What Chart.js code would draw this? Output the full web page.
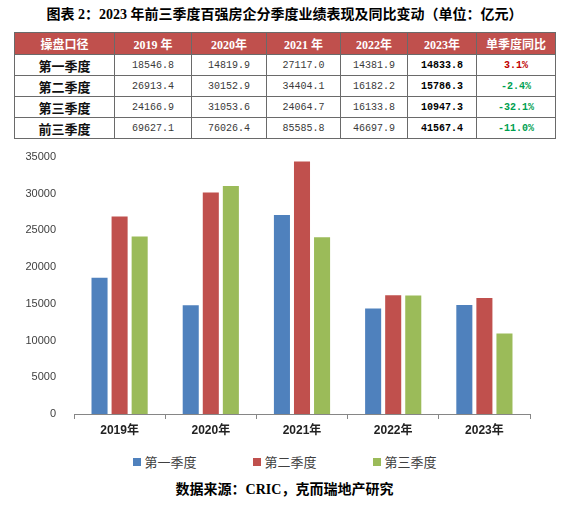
<!DOCTYPE html>
<html>
<head>
<meta charset="utf-8">
<script src="https://cdn.jsdelivr.net/npm/chart.js@4.4.0/dist/chart.umd.min.js"></script>
<style>
  html, body { margin:0; padding:0; background:#fff; }
  body { width:569px; height:506px; position:relative; overflow:hidden; }
  #title { position:absolute; top:5px; left:0; width:569px; text-align:center;
    font:bold 14px "Liberation Serif","Noto Sans CJK SC",serif; color:#000; line-height:20px; }
  #tbl { position:absolute; top:32px; left:14px; border-collapse:collapse; table-layout:fixed; }
  #tbl td, #tbl th { border:1px solid #6a6a6a; text-align:center; padding:0; }
  #tbl th { background:#C0504D; color:#fff; height:21px;
    font:bold 12px "Liberation Serif","Noto Sans CJK SC",serif; }
  #tbl td { height:20px; font:10px "Liberation Mono","DejaVu Sans Mono",monospace; color:#3a3a3a; }
  #tbl td.rn { font:bold 13px "Noto Sans CJK SC",sans-serif; color:#111; }
  #tbl td.b { font-weight:bold; color:#000; }
  #tbl td.up { color:#C00000; font-weight:bold; }
  #tbl td.dn { color:#00A050; font-weight:bold; }
  #wrap { position:absolute; top:140px; left:0; width:569px; height:300px; }
  #legend { position:absolute; top:454px; left:0; width:569px; display:flex; justify-content:center; gap:56px;
    font:13px "Noto Sans CJK SC",sans-serif; color:#404040; line-height:16px; }
  #legend .it { display:flex; align-items:center; width:64px; white-space:nowrap; }
  #legend .bx { width:8px; height:8px; margin-right:4px; flex:none; }
  #src { position:absolute; top:480px; left:0; width:569px; text-align:center;
    font:bold 14px "Liberation Serif","Noto Sans CJK SC",serif; color:#000; line-height:20px; }
</style>
</head>
<body>
<div id="title">图表 2：2023 年前三季度百强房企分季度业绩表现及同比变动（单位：亿元）</div>
<table id="tbl">
  <colgroup id="cols"></colgroup>
  <thead><tr id="hdr"></tr></thead>
  <tbody id="tb"></tbody>
</table>
<div id="wrap"><canvas id="c"></canvas></div>
<div id="legend"></div>
<div id="src">数据来源：CRIC，克而瑞地产研究</div>
<script>
const categories = ['2019年', '2020年', '2021年', '2022年', '2023年'];
const seriesNames = ['第一季度', '第二季度', '第三季度'];
const q1 = [18546.8, 14819.9, 27117.0, 14381.9, 14833.8];
const q2 = [26913.4, 30152.9, 34404.1, 16182.2, 15786.3];
const q3 = [24166.9, 31053.6, 24064.7, 16133.8, 10947.3];
const q123 = [69627.1, 76026.4, 85585.8, 46697.9, 41567.4];
const yoy = ['3.1%', '-2.4%', '-32.1%', '-11.0%'];
const tableHeaders = ['操盘口径', '2019 年', '2020年', '2021 年', '2022年', '2023年', '单季度同比'];
const rowNames = ['第一季度', '第二季度', '第三季度', '前三季度'];
const yTicks = [0, 5000, 10000, 15000, 20000, 25000, 30000, 35000];
const colors = ['#4F81BD', '#C0504D', '#9BBB59'];
const colWidths = [100, 77, 75, 74, 67, 69, 79];

// table
const cols = document.getElementById('cols');
colWidths.forEach(w => { const c = document.createElement('col'); c.style.width = w + 'px'; cols.appendChild(c); });
const hdr = document.getElementById('hdr');
tableHeaders.forEach(h => { const th = document.createElement('th'); th.textContent = h; hdr.appendChild(th); });
const tb = document.getElementById('tb');
const rows = [q1, q2, q3, q123];
rows.forEach((vals, i) => {
  const tr = document.createElement('tr');
  const rn = document.createElement('td'); rn.className = 'rn'; rn.textContent = rowNames[i]; tr.appendChild(rn);
  vals.forEach((v, j) => {
    const td = document.createElement('td');
    td.textContent = v.toFixed(1);
    if (j === vals.length - 1) td.className = 'b';
    tr.appendChild(td);
  });
  const p = document.createElement('td');
  p.textContent = yoy[i];
  p.className = yoy[i].startsWith('-') ? 'dn' : 'up';
  tr.appendChild(p);
  tb.appendChild(tr);
});

// chart
const datasets = [q1, q2, q3].map((d, i) => ({
  label: seriesNames[i], data: d, backgroundColor: colors[i], borderWidth: 0,
  categoryPercentage: 0.66, barPercentage: 0.8
}));
const chart = new Chart(document.getElementById('c'), {
  type: 'bar',
  data: { labels: categories, datasets },
  options: {
    responsive: true, maintainAspectRatio: false, animation: false,
    layout: { padding: { top: 17, left: 0, right: 39, bottom: 0 } },
    plugins: { legend: { display: false }, tooltip: { enabled: false } },
    scales: {
      x: {
        grid: { display: true, drawOnChartArea: false, offset: true, tickLength: 5, color: '#868686' },
        border: { display: true, color: '#868686', width: 1 },
        ticks: { color: '#222', font: { family: 'Liberation Sans, Noto Sans CJK SC', size: 12, weight: 'bold' }, padding: 4 },
        afterFit: s => { s.height = 26; }
      },
      y: {
        min: 0, max: 35000,
        afterBuildTicks: s => { s.ticks = yTicks.map(v => ({ value: v })); },
        grid: { display: false },
        border: { display: false },
        ticks: { color: '#404040', font: { family: 'Liberation Sans', size: 11 }, padding: 10,
          callback: v => String(v) },
        afterFit: s => { s.width = 74; }
      }
    }
  }
});

// HTML legend generated from the chart's datasets
const lg = document.getElementById('legend');
chart.data.datasets.forEach(ds => {
  const it = document.createElement('span'); it.className = 'it';
  const bx = document.createElement('span'); bx.className = 'bx'; bx.style.background = ds.backgroundColor;
  const tx = document.createElement('span'); tx.textContent = ds.label;
  it.appendChild(bx); it.appendChild(tx); lg.appendChild(it);
});
</script>
</body>
</html>
